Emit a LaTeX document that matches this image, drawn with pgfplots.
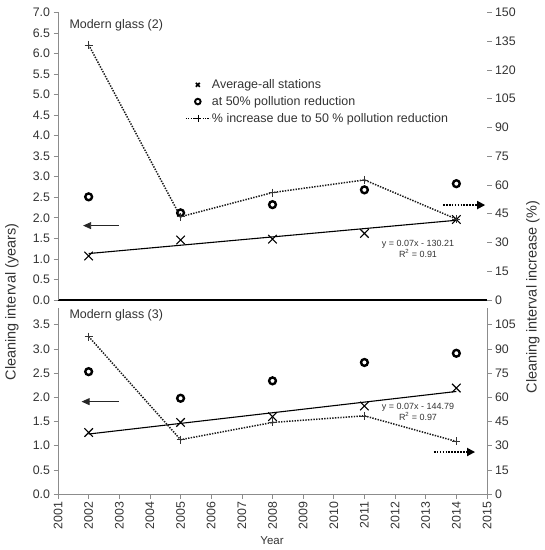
\documentclass[border=0pt]{standalone}
\usepackage{fontspec}
\setmainfont{Liberation Sans}
\usepackage{pgfplots}
\pgfplotsset{compat=1.18}
\usetikzlibrary{arrows.meta}
\definecolor{axgray}{HTML}{8C8C8C}
\definecolor{txtgray}{HTML}{333333}
\begin{document}
\begin{tikzpicture}
\useasboundingbox (0bp,0bp) rectangle (545bp,550bp);
\pgfplotsset{
 base/.style={scale only axis, width=429bp, xmin=2001, xmax=2015,
   /pgf/number format/assume math mode=true,
   tick label style={font=\fontsize{12.4}{14}\selectfont, text=txtgray},
   tick align=outside, major tick length=4.5bp, tick style={axgray, line width=0.6bp},
   clip=false},
 leftnum/.style={yticklabel style={/pgf/number format/.cd, fixed, fixed zerofill, precision=1}},
 avgm/.style={only marks, mark=x, mark size=6bp, line width=1.1bp, black},
 redm/.style={only marks, mark=o, mark size=3.4bp, line width=2.4bp, black},
 pctl/.style={black!90, line width=1.5bp, dash pattern=on 1.4bp off 1.3bp, mark=+, mark size=4bp, mark options={solid, line width=0.6bp, black!80}},
 trend/.style={black, line width=1.1bp},
 larrow/.style={-{Triangle[length=8bp,width=7bp]}, line width=0.8bp, black!85},
 darrow/.style={-{Triangle[length=8bp,width=8bp]}, line width=1.8bp, dash pattern=on 1.6bp off 1.3bp, black},
}
% ---------------- top panel ----------------
\begin{axis}[base, at={(58bp,250bp)}, anchor=south west, height=287.7bp, ymin=0, ymax=7,
  axis x line*=bottom, axis y line*=left, xtick=\empty,
  x axis line style={black, line width=1.6bp, -}, y axis line style={axgray, line width=0.7bp, -},
  ytick={0,0.5,1,1.5,2,2.5,3,3.5,4,4.5,5,5.5,6,6.5,7}, leftnum,
  legend style={draw=none, fill=none, at={(0.296,0.772)}, anchor=north west,
    font=\fontsize{12.5}{14}\selectfont, text=txtgray, row sep=3.2bp, inner sep=0pt,
    nodes={inner sep=1.5bp}},
  legend cell align=left,
  legend image code/.code={\draw[mark repeat=2,mark phase=2,#1] plot coordinates {(0bp,0bp) (12bp,0bp) (24bp,0bp)};}]
\addplot[trend, forget plot] coordinates {(2002,1.13) (2014,1.94)};
\addplot[avgm, forget plot] coordinates {(2002,1.07) (2005,1.46) (2008,1.48) (2011,1.62) (2014,1.96)};
\addplot[redm, forget plot] coordinates {(2002,2.51) (2005,2.12) (2008,2.32) (2011,2.68) (2014,2.83)};
\addplot[larrow, forget plot] coordinates {(2002.99,1.81) (2001.82,1.81)};
\addplot[darrow, forget plot] coordinates {(2013.57,2.31) (2014.94,2.31)};
\addlegendimage{only marks, mark=x, mark size=2.8bp, line width=1.7bp, black}
\addlegendentry{Average-all stations}
\addlegendimage{only marks, mark=o, mark size=2.8bp, line width=1.9bp, black}
\addlegendentry{at 50\% pollution reduction}
\addlegendimage{black, line width=1.3bp, dash pattern=on 1.2bp off 1.2bp, mark=+, mark size=3.5bp, mark options={solid, line width=0.6bp}}
\addlegendentry{\% increase due to 50 \% pollution reduction}
\end{axis}
\begin{axis}[base, at={(58bp,250bp)}, anchor=south west, height=287.7bp, ymin=0, ymax=150,
  axis x line=none, axis y line*=right, y axis line style={draw=none},
  ytick={0,15,30,45,60,75,90,105,120,135,150}]
\addplot[pctl] coordinates {(2002,133) (2005,43.4) (2008,56) (2011,62.6) (2014,42.2)};
\end{axis}
% ---------------- bottom panel ----------------
\begin{axis}[base, at={(58bp,56bp)}, anchor=south west, height=185.7bp, ymin=0, ymax=3.84,
  axis x line*=bottom, axis y line*=left,
  x axis line style={axgray, line width=0.7bp, -}, y axis line style={axgray, line width=0.7bp, -},
  xtick={2001,2002,2003,2004,2005,2006,2007,2008,2009,2010,2011,2012,2013,2014,2015},
  xticklabel style={rotate=90, anchor=east, /pgf/number format/1000 sep={}},
  ytick={0,0.5,1,1.5,2,2.5,3,3.5}, leftnum]
\addplot[trend] coordinates {(2002,1.24) (2014,2.12)};
\addplot[avgm] coordinates {(2002,1.27) (2005,1.48) (2008,1.60) (2011,1.82) (2014,2.19)};
\addplot[redm] coordinates {(2002,2.53) (2005,1.98) (2008,2.34) (2011,2.72) (2014,2.91)};
\addplot[larrow] coordinates {(2002.99,1.91) (2001.77,1.91)};
\addplot[darrow] coordinates {(2013.27,0.868) (2014.61,0.868)};
\end{axis}
\begin{axis}[base, at={(58bp,56bp)}, anchor=south west, height=185.7bp, ymin=0, ymax=115.2,
  axis x line=none, axis y line*=right, y axis line style={axgray, line width=0.7bp, -},
  ytick={0,15,30,45,60,75,90,105}]
\addplot[pctl] coordinates {(2002,97.7) (2005,33.7) (2008,44.4) (2011,48.5) (2014,32.6)};
\end{axis}
% ---------------- texts ----------------
\node[anchor=west, font=\fontsize{12.5}{14}\selectfont, text=txtgray] at (66bp,525bp) {Modern glass (2)};
\node[anchor=west, font=\fontsize{12.5}{14}\selectfont, text=txtgray] at (66bp,235bp) {Modern glass (3)};
\node[font=\fontsize{9}{10.5}\selectfont, text=txtgray, align=center] at (418bp,301bp) {y = 0.07x - 130.21\\R\textsuperscript{2} = 0.91};
\node[font=\fontsize{9}{10.5}\selectfont, text=txtgray, align=center] at (418bp,138bp) {y = 0.07x - 144.79\\R\textsuperscript{2} = 0.97};
\node[rotate=90, font=\fontsize{14.5}{16}\selectfont, text=txtgray] at (12bp,248bp) {Cleaning interval (years)};
\node[rotate=90, font=\fontsize{14.5}{16}\selectfont, text=txtgray] at (533bp,253bp) {Cleaning interval increase (\%)};
\node[font=\fontsize{11.5}{13}\selectfont, text=txtgray] at (272bp,9bp) {Year};
\end{tikzpicture}
\end{document}
